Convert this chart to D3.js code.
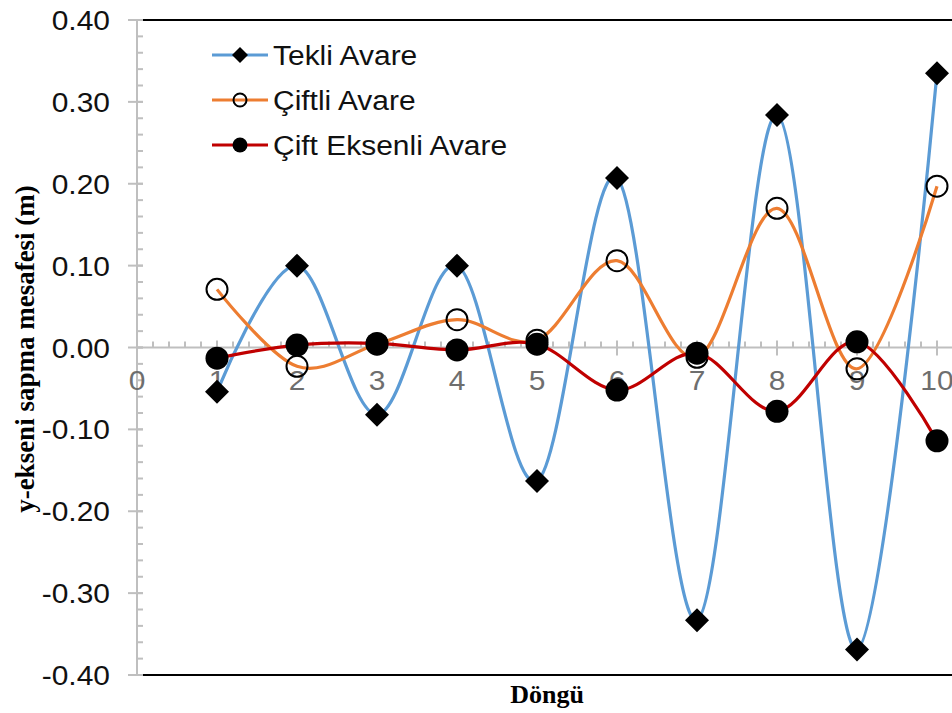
<!DOCTYPE html>
<html>
<head>
<meta charset="utf-8">
<script src="https://cdn.jsdelivr.net/npm/d3@7"></script>
<style>
  html, body { margin: 0; padding: 0; background: #fff; }
  svg { display: block; }
</style>
</head>
<body>
<svg id="chart" width="952" height="713"></svg>
<script>
const cycles = [1, 2, 3, 4, 5, 6, 7, 8, 9, 10];
const tekliAvare = [-0.054, 0.100, -0.082, 0.100, -0.163, 0.207, -0.333, 0.284, -0.369, 0.335];
const ciftliAvare = [0.071, -0.023, 0.004, 0.034, 0.009, 0.106, -0.012, 0.170, -0.026, 0.197];
const ciftEksenliAvare = [-0.013, 0.003, 0.005, -0.003, 0.004, -0.052, -0.007, -0.078, 0.007, -0.114];
const seriesNames = ["Tekli Avare", "Çiftli Avare", "Çift Eksenli Avare"];
const xTicks = [0, 1, 2, 3, 4, 5, 6, 7, 8, 9, 10];
const yTicks = [-0.40, -0.30, -0.20, -0.10, 0.00, 0.10, 0.20, 0.30, 0.40];
const xTitle = "Döngü";
const yTitle = "y-ekseni sapma mesafesi (m)";

const svg = d3.select("#chart");
const W = 952, H = 713;
const x = d3.scaleLinear().domain([0, 10]).range([137, 937]);
const y = d3.scaleLinear().domain([-0.4, 0.4]).range([675, 20]);
const SX = 1.07; // horizontal stretch of the original text
const fmtY = d => d3.format(".2f")(d).replace("\u2212", "-");

const series = [
  { name: seriesNames[0], values: tekliAvare, color: "#5B9BD5", marker: "diamond" },
  { name: seriesNames[1], values: ciftliAvare, color: "#ED7D31", marker: "open" },
  { name: seriesNames[2], values: ciftEksenliAvare, color: "#C00000", marker: "filled" }
];

// plot border (top & bottom black)
svg.append("line").attr("x1", 143).attr("x2", W).attr("y1", y(0.4)).attr("y2", y(0.4))
  .attr("stroke", "#000").attr("stroke-width", 2);
svg.append("line").attr("x1", 143).attr("x2", W).attr("y1", y(-0.4)).attr("y2", y(-0.4))
  .attr("stroke", "#000").attr("stroke-width", 2);

const axisColor = "#BFBFBF";
// y axis
const yMinor = d3.range(-0.40, 0.4001, 0.02).map(v => +v.toFixed(2));
const gy = svg.append("g");
gy.append("line").attr("x1", x(0)).attr("x2", x(0)).attr("y1", y(0.4)).attr("y2", y(-0.4))
  .attr("stroke", axisColor).attr("stroke-width", 2);
gy.selectAll(".ymin").data(yMinor).join("line")
  .attr("x1", x(0)).attr("x2", x(0) + 6).attr("y1", d => y(d)).attr("y2", d => y(d))
  .attr("stroke", axisColor).attr("stroke-width", 2);
gy.selectAll(".ymaj").data(yTicks).join("line")
  .attr("x1", x(0) - 9).attr("x2", x(0) + 6).attr("y1", d => y(d)).attr("y2", d => y(d))
  .attr("stroke", axisColor).attr("stroke-width", 2);
gy.selectAll(".ylab").data(yTicks).join("text")
  .attr("transform", d => `translate(110,${y(d)}) scale(${SX},1)`).attr("dy", "0.36em")
  .attr("text-anchor", "end")
  .attr("font-family", "Liberation Sans, Arial, sans-serif").attr("font-size", 28)
  .attr("fill", "#111")
  .text(fmtY);

// x axis at y=0
const xMinor = d3.range(0, 10.0001, 0.2).map(v => +v.toFixed(1));
const gx = svg.append("g");
gx.append("line").attr("x1", x(0)).attr("x2", W).attr("y1", y(0)).attr("y2", y(0))
  .attr("stroke", axisColor).attr("stroke-width", 2);
gx.selectAll(".xmin").data(xMinor).join("line")
  .attr("x1", d => x(d)).attr("x2", d => x(d)).attr("y1", y(0) - 6).attr("y2", y(0))
  .attr("stroke", axisColor).attr("stroke-width", 2);
gx.selectAll(".xmaj").data(xTicks).join("line")
  .attr("x1", d => x(d)).attr("x2", d => x(d)).attr("y1", y(0) - 7).attr("y2", y(0) + 8)
  .attr("stroke", axisColor).attr("stroke-width", 2);
gx.selectAll(".xlab").data(xTicks).join("text")
  .attr("transform", d => `translate(${x(d)},${y(0) + 42}) scale(${SX},1)`)
  .attr("text-anchor", "middle")
  .attr("font-family", "Liberation Sans, Arial, sans-serif").attr("font-size", 28)
  .attr("fill", "#6E6E6E")
  .text(d => d);

// series
const line = d3.line().x((d, i) => x(cycles[i])).y(d => y(d)).curve(d3.curveCatmullRom.alpha(0));
const diamond = r => `M0,${-r}L${r},0L0,${r}L${-r},0Z`;

function drawMarker(g, type, cx, cy, r) {
  if (type === "diamond") {
    g.append("path").attr("d", diamond(r)).attr("transform", `translate(${cx},${cy})`).attr("fill", "#000");
  } else if (type === "open") {
    g.append("circle").attr("cx", cx).attr("cy", cy).attr("r", r - 1).attr("fill", "none")
      .attr("stroke", "#000").attr("stroke-width", 2);
  } else {
    g.append("circle").attr("cx", cx).attr("cy", cy).attr("r", r).attr("fill", "#000");
  }
}

series.forEach(s => {
  const g = svg.append("g");
  g.append("path").datum(s.values).attr("d", line).attr("fill", "none")
    .attr("stroke", s.color).attr("stroke-width", 3.2);
  s.values.forEach((v, i) => drawMarker(g, s.marker, x(cycles[i]), y(v), s.marker === "diamond" ? 12 : 11.5));
});

// legend
const legY = [55, 100, 145];
series.forEach((s, i) => {
  const g = svg.append("g");
  g.append("line").attr("x1", 212).attr("x2", 268).attr("y1", legY[i]).attr("y2", legY[i])
    .attr("stroke", s.color).attr("stroke-width", 3.2);
  drawMarker(g, s.marker, 240, legY[i], s.marker === "diamond" ? 8 : 7.5);
  g.append("text").attr("transform", `translate(273,${legY[i]}) scale(${SX},1)`).attr("dy", "0.36em")
    .attr("font-family", "Liberation Sans, Arial, sans-serif").attr("font-size", 28)
    .attr("fill", "#111").text(s.name);
});

// axis titles
svg.append("text").attr("x", 547).attr("y", 703).attr("text-anchor", "middle")
  .attr("font-family", "Liberation Serif, Times New Roman, serif").attr("font-weight", "bold")
  .attr("font-size", 26).attr("fill", "#000").text(xTitle);
svg.append("text").attr("transform", "translate(34,349) rotate(-90)").attr("text-anchor", "middle")
  .attr("font-family", "Liberation Serif, Times New Roman, serif").attr("font-weight", "bold")
  .attr("font-size", 27).attr("fill", "#000").text(yTitle);
</script>
</body>
</html>
